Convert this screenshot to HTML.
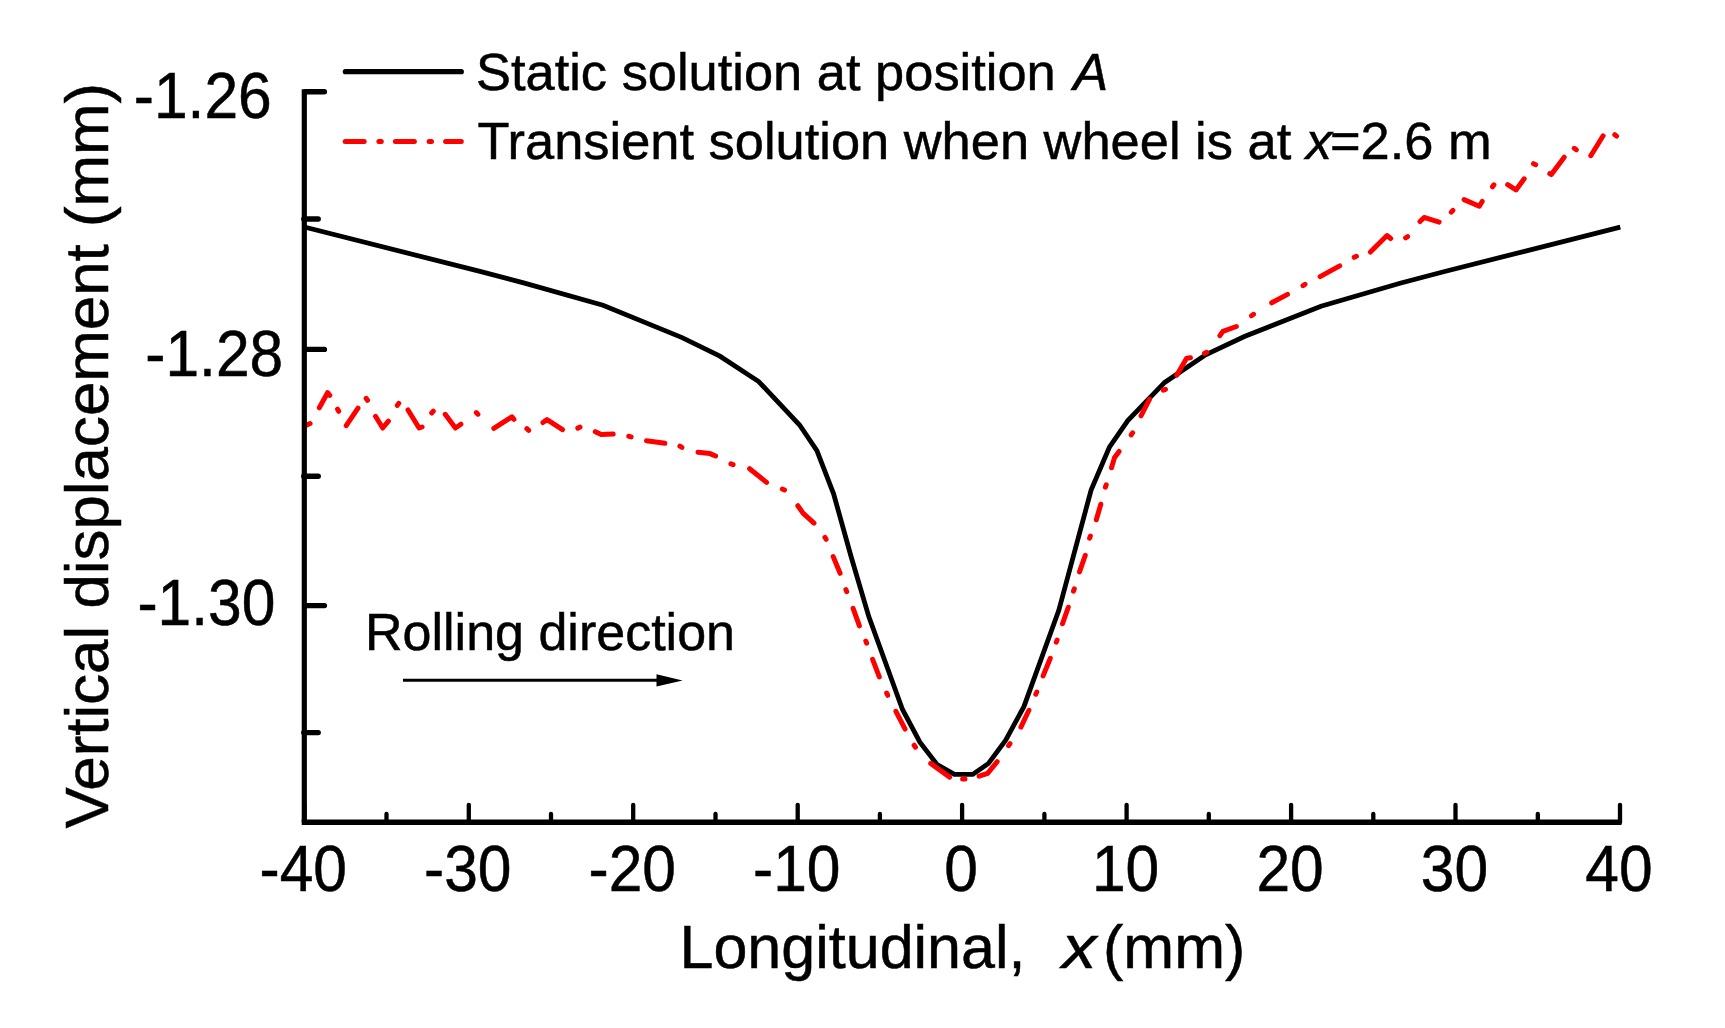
<!DOCTYPE html>
<html><head><meta charset="utf-8"><title>Vertical displacement</title>
<style>
html,body{margin:0;padding:0;background:#fff;}
svg{display:block;font-family:"Liberation Sans",Arial,sans-serif;}
</style></head>
<body>
<svg width="1725" height="1028" viewBox="0 0 1725 1028">
<rect width="1725" height="1028" fill="#fff"/>
<polyline points="304.3,227.0 480.0,271.4 523.6,282.9 603.0,305.3 682.1,337.6 719.9,356.2 758.7,381.5 799.6,425.0 816.9,450.6 833.6,493.8 851.2,557.0 868.8,616.6 902.5,709.5 919.9,742.2 937.2,764.6 954.4,774.4 972.7,774.4 988.3,763.6 1005.7,740.1 1024.0,706.4 1058.8,610.4 1091.1,490.1 1109.4,447.2 1127.8,420.6 1164.7,382.4 1205.6,354.8 1244.4,336.5 1321.0,306.2 1400.0,283.2 1445.6,271.2 1620.3,227.2" fill="none" stroke="#000" stroke-width="4.8" stroke-linejoin="miter"/>
<path d="M306.4 425.1 L310.1 423.5 M319.3 407.8 L327.6 392.7 L329.8 395.3 M337.5 409.1 L338.7 411.3 M346.2 425.7 L358.0 408.1 M366.1 398.3 L367.5 400.3 M375.5 416.3 L382.7 428.0 L388.4 421.2 M397.3 405.4 L398.7 403.4 M408.0 410.0 L419.1 428.0 L422.1 427.0 M431.7 413.0 L433.3 411.2 M445.2 414.3 L455.4 428.0 L460.9 424.2 M476.3 412.6 L477.9 414.2 M493.8 428.4 L511.9 416.8 L513.9 419.3 M526.9 428.7 L528.7 430.3 M542.9 422.5 L547.0 419.6 L562.5 429.7 M577.8 428.1 L580.0 427.1 M595.3 431.7 L601.2 434.6 L613.2 434.1 M628.7 436.3 L631.1 436.9 M646.5 440.7 L664.9 443.3 M679.9 446.2 L681.9 447.4 M698.0 452.3 L710.0 453.6 L715.6 456.0 M730.9 463.9 L733.1 464.7 M749.6 468.7 L766.6 482.4 M782.3 489.0 L784.5 490.0 M797.8 505.7 L803.0 513.1 L814.0 523.1 M824.9 537.3 L826.1 539.3 M833.2 556.6 L840.1 573.3 M845.9 589.5 L846.7 591.7 M853.1 608.4 L859.4 625.8 M865.8 641.0 L866.6 643.2 M872.6 659.3 L879.3 676.9 M886.7 693.1 L887.7 695.3 M895.9 711.3 L905.1 729.1 M914.1 745.2 L915.5 747.2 M930.7 763.4 L949.7 777.1 M962.6 778.9 L965.0 778.9 M979.1 776.2 L987.6 773.3 L997.2 761.6 M1008.6 745.6 L1010.0 743.6 M1020.9 727.1 L1028.9 710.3 M1035.8 694.2 L1036.8 692.0 M1043.1 675.9 L1050.3 658.3 M1056.3 642.2 L1057.1 640.0 M1062.5 623.8 L1068.3 607.2 M1073.5 591.1 L1074.3 588.9 M1079.5 571.9 L1085.3 555.3 M1089.6 538.2 L1090.4 536.0 M1096.3 519.8 L1100.8 504.2 M1105.4 487.1 L1106.2 484.9 M1111.5 467.8 L1114.6 457.4 L1119.1 451.4 M1131.2 434.9 L1132.6 432.9 M1141.0 415.8 L1149.5 399.3 M1163.3 390.1 L1165.5 389.3 M1176.7 375.2 L1186.6 358.3 L1190.5 357.8 M1204.5 353.3 L1206.7 352.3 M1219.9 335.7 L1222.9 331.3 L1236.4 326.5 M1251.5 315.7 L1253.5 314.3 M1271.7 302.8 L1287.5 294.4 M1303.0 285.6 L1305.0 284.4 M1320.1 276.6 L1339.7 265.9 M1354.2 257.3 L1356.4 256.3 M1370.4 252.1 L1387.0 235.5 L1390.7 238.5 M1405.6 237.8 L1407.6 236.6 M1420.0 221.5 L1424.1 217.4 L1439.1 222.1 M1451.3 212.2 L1452.9 210.4 M1464.1 199.6 L1479.3 206.2 L1482.2 201.5 M1492.5 186.8 L1493.9 184.8 M1507.7 184.7 L1516.0 189.9 L1524.2 178.8 M1533.5 163.7 L1535.7 164.7 M1549.8 173.7 L1551.3 174.6 L1564.2 157.2 M1574.3 148.3 L1576.3 149.7 M1590.8 155.7 L1603.1 135.8 M1614.8 134.7 L1616.6 136.1" fill="none" stroke="#f00" stroke-width="5" stroke-linejoin="round" stroke-linecap="round"/>
<g stroke="#000" stroke-width="5.4" stroke-linecap="round" fill="none">
<line x1="305.3" y1="91.7" x2="324.4" y2="91.7"/>
<line x1="305.3" y1="349.4" x2="324.4" y2="349.4"/>
<line x1="305.3" y1="605.6" x2="324.4" y2="605.6"/>
<line x1="303.8" y1="219" x2="318.2" y2="219"/>
<line x1="303.8" y1="476.3" x2="318.2" y2="476.3"/>
<line x1="303.8" y1="732.6" x2="318.2" y2="732.6"/>
</g>
<g stroke="#000" stroke-width="4.3" stroke-linecap="round" fill="none">
<line x1="304.3" y1="822.3" x2="304.3" y2="804.8"/>
<line x1="386.5" y1="822.3" x2="386.5" y2="814"/>
<line x1="468.8" y1="822.3" x2="468.8" y2="804.8"/>
<line x1="551.0" y1="822.3" x2="551.0" y2="814"/>
<line x1="633.2" y1="822.3" x2="633.2" y2="804.8"/>
<line x1="715.5" y1="822.3" x2="715.5" y2="814"/>
<line x1="797.7" y1="822.3" x2="797.7" y2="804.8"/>
<line x1="879.9" y1="822.3" x2="879.9" y2="814"/>
<line x1="962.1" y1="822.3" x2="962.1" y2="804.8"/>
<line x1="1044.4" y1="822.3" x2="1044.4" y2="814"/>
<line x1="1126.6" y1="822.3" x2="1126.6" y2="804.8"/>
<line x1="1208.8" y1="822.3" x2="1208.8" y2="814"/>
<line x1="1291.1" y1="822.3" x2="1291.1" y2="804.8"/>
<line x1="1373.3" y1="822.3" x2="1373.3" y2="814"/>
<line x1="1455.5" y1="822.3" x2="1455.5" y2="804.8"/>
<line x1="1537.8" y1="822.3" x2="1537.8" y2="814"/>
<line x1="1620.0" y1="822.3" x2="1620.0" y2="804.8"/>
</g>
<line x1="304.3" y1="89.2" x2="304.3" y2="822.3" stroke="#000" stroke-width="5.2"/>
<line x1="301.7" y1="822.3" x2="1621.5" y2="822.3" stroke="#000" stroke-width="5.6"/>
<line x1="345.3" y1="71.7" x2="461.3" y2="71.7" stroke="#000" stroke-width="5.2" stroke-linecap="round"/>
<line x1="345.2" y1="141.4" x2="461.3" y2="141.4" stroke="#f00" stroke-width="5" stroke-linecap="round" stroke-dasharray="19 14.7 2.4 14.1"/>
<g font-size="52.42" fill="#000" stroke="#000" stroke-width="0.5">
<text x="476" y="89.7">Static solution at position <tspan font-style="italic" dx="3">A</tspan></text>
<text x="477.5" y="159.4">Transient solution when wheel is at <tspan font-style="italic">x</tspan><tspan dx="-2">=2.6 m</tspan></text>
<text x="365" y="650" font-size="52">Rolling direction</text>
</g>
<line x1="403" y1="680.3" x2="660" y2="680.3" stroke="#000" stroke-width="3"/>
<polygon points="656.5,674.3 682.6,680.4 656.5,686.6" fill="#000"/>
<g font-size="60.5" fill="#000" stroke="#000" stroke-width="0.5">
<text transform="translate(133.8,118.3) scale(1,1.07)" text-anchor="start">-1.26</text>
<text transform="translate(145.3,376.1) scale(1,1.07)" text-anchor="start">-1.28</text>
<text transform="translate(137.4,624.7) scale(1,1.07)" text-anchor="start">-1.30</text>
<text transform="translate(303.3,890.8) scale(1,1.07)" text-anchor="middle">-40</text>
<text transform="translate(467.8,890.8) scale(1,1.07)" text-anchor="middle">-30</text>
<text transform="translate(632.2,890.8) scale(1,1.07)" text-anchor="middle">-20</text>
<text transform="translate(796.7,890.8) scale(1,1.07)" text-anchor="middle">-10</text>
<text transform="translate(961.1,890.8) scale(1,1.07)" text-anchor="middle">0</text>
<text transform="translate(1125.6,890.8) scale(1,1.07)" text-anchor="middle">10</text>
<text transform="translate(1290.1,890.8) scale(1,1.07)" text-anchor="middle">20</text>
<text transform="translate(1454.5,890.8) scale(1,1.07)" text-anchor="middle">30</text>
<text transform="translate(1619.0,890.8) scale(1,1.07)" text-anchor="middle">40</text>
</g>
<g font-size="61" fill="#000" stroke="#000" stroke-width="0.5">
<text x="679.5" y="967.8">Longitudinal,</text>
<text transform="translate(1062,968) scale(1.13,1)" font-style="italic">x</text>
<text x="1103" y="967.8">(mm)</text>
<text transform="translate(108,828.6) rotate(-90)" font-size="61.85">Vertical displacement (mm)</text>
</g>
</svg>
</body></html>
